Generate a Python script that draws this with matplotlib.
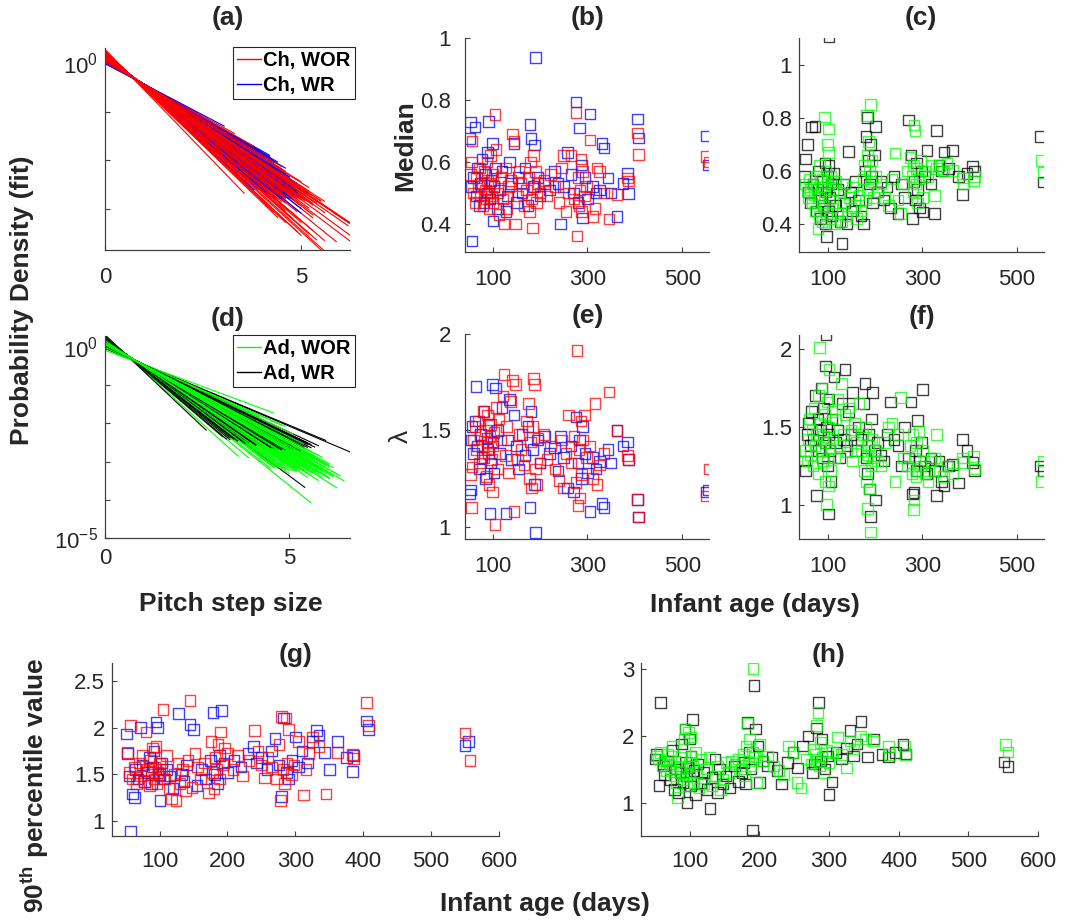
import numpy as np
import matplotlib
matplotlib.use('Agg')
import matplotlib.pyplot as plt
from matplotlib.lines import Line2D

plt.rcParams['font.family'] = ['Liberation Sans', 'DejaVu Sans']
plt.rcParams['mathtext.fontset'] = 'custom'
plt.rcParams['mathtext.rm'] = 'Liberation Sans'
plt.rcParams['mathtext.bf'] = 'Liberation Sans:bold'
plt.rcParams['mathtext.it'] = 'Liberation Sans:italic'

# ---------------- data ----------------
# Children, without reduplication (red)
red_age = [53, 56, 57, 60, 63, 66, 70, 72, 75, 78,
           80, 82, 85, 87, 88, 90, 92, 93, 95, 96,
           98, 100, 101, 103, 105, 107, 110, 114, 118, 122,
           124, 127, 130, 134, 138, 142, 145, 148, 152, 156,
           160, 166, 172, 176, 178, 180, 182, 184, 186, 188,
           190, 193, 196, 200, 208, 215, 222, 232, 240, 245,
           250, 255, 260, 265, 272, 276, 278, 280, 282, 284,
           286, 288, 290, 294, 298, 305, 312, 316, 320, 325,
           335, 345, 362, 384, 386, 405, 408, 550, 557]
red_med = [0.56, 0.60, 0.668, 0.50, 0.47, 0.55, 0.52, 0.58, 0.49, 0.53,
           0.46, 0.57, 0.51, 0.48, 0.60, 0.54, 0.50, 0.45, 0.53, 0.62,
           0.49, 0.56, 0.47, 0.52, 0.752, 0.64, 0.50, 0.43, 0.55, 0.48,
           0.40, 0.58, 0.45, 0.52, 0.54, 0.69, 0.668, 0.40, 0.49, 0.57,
           0.53, 0.46, 0.51, 0.55, 0.44, 0.60, 0.48, 0.387, 0.62, 0.52,
           0.57, 0.47, 0.53, 0.50, 0.54, 0.49, 0.56, 0.52, 0.47, 0.58,
           0.62, 0.44, 0.50, 0.62, 0.48, 0.76, 0.361, 0.55, 0.46, 0.51,
           0.61, 0.44, 0.57, 0.49, 0.52, 0.67, 0.424, 0.45, 0.58, 0.57,
           0.50, 0.416, 0.496, 0.548, 0.538, 0.693, 0.623, 0.617, 0.60]
red_lam = [1.27, 1.10, 1.31, 1.45, 1.52, 1.40, 1.55, 1.33, 1.48, 1.42,
           1.60, 1.36, 1.50, 1.26, 1.44, 1.58, 1.38, 1.22, 1.47, 1.53,
           1.35, 1.18, 1.42, 1.49, 1.01, 1.62, 1.30, 1.56, 1.45, 1.68,
           1.79, 1.37, 1.52, 1.28, 1.65, 1.76, 1.08, 1.74, 1.35, 1.48,
           1.40, 1.32, 1.55, 1.64, 1.25, 1.44, 1.20, 1.52, 1.77, 1.74,
           1.30, 1.22, 1.46, 1.33, 1.48, 1.35, 1.42, 1.30, 1.24, 1.45,
           1.20, 1.38, 1.58, 1.33, 1.47, 1.23, 1.917, 1.11, 1.40, 1.15,
           1.55, 1.27, 1.45, 1.58, 1.36, 1.42, 1.25, 1.64, 1.22, 1.32,
           1.38, 1.70, 1.50, 1.37, 1.35, 1.14, 1.05, 1.16, 1.30]
red_p90 = [1.73, 1.52, 2.02, 1.45, 1.58, 1.40, 1.62, 1.48, 1.70, 1.42,
           1.95, 1.55, 1.38, 1.65, 1.50, 1.78, 1.45, 1.58, 1.80, 1.40,
           1.52, 1.62, 1.48, 1.55, 2.19, 1.45, 1.70, 1.35, 1.24, 1.50,
           1.22, 1.62, 1.40, 1.55, 1.32, 1.65, 2.29, 1.36, 1.72, 1.58,
           1.45, 1.62, 1.30, 1.85, 1.52, 1.35, 1.68, 1.55, 1.82, 1.45,
           1.95, 1.60, 1.78, 1.72, 1.55, 1.70, 1.48, 1.65, 1.97, 1.75,
           1.60, 1.46, 1.68, 1.58, 1.45, 1.82, 1.22, 2.12, 1.55, 1.40,
           2.10, 1.62, 1.98, 1.50, 1.60, 1.85, 1.28, 1.55, 1.72, 1.90,
           1.80, 1.29, 1.73, 1.71, 1.67, 2.27, 2.02, 1.94, 1.65]
red_xend = [5.4, 4.4, 5.6, 4.6, 4.9, 6.4, 4.5, 5.1, 4.3, 5.3,
            5.0, 4.8, 5.9, 4.6, 4.7, 5.6, 5.2, 5.5, 4.3, 4.6,
            6.5, 4.4, 5.0, 4.5, 3.3, 4.6, 4.8, 4.4, 5.3, 5.8,
            4.4, 4.9, 4.3, 6.2, 5.2, 4.6, 4.0, 4.9, 5.0, 4.6,
            4.8, 5.3, 4.2, 5.4, 6.4, 4.7, 5.2, 4.1, 4.3, 5.0,
            5.1, 5.5, 4.6, 5.0, 4.5, 4.9, 4.3, 5.3, 6.3, 4.5,
            5.6, 4.8, 5.3, 5.0, 4.6, 5.2, 3.55, 4.5, 4.7, 5.0,
            4.2, 5.1, 4.6, 4.9, 4.9, 4.5, 6.3, 4.8, 5.2, 4.8,
            4.6, 5.5, 4.4, 4.7, 5.0, 4.6, 3.8, 5.2, 4.8]

# Children, with reduplication (blue)
blue_age = [51, 53, 55, 57, 60, 63, 65, 68, 72, 75,
            78, 82, 85, 88, 90, 92, 95, 97, 100, 101,
            103, 106, 110, 115, 120, 128, 132, 136, 140, 145,
            150, 155, 162, 168, 175, 179, 181, 185, 188, 191,
            195, 200, 210, 220, 230, 238, 243, 250, 258, 265,
            270, 276, 280, 283, 287, 290, 295, 300, 305, 310,
            318, 325, 331, 335, 343, 350, 362, 375, 384, 386,
            405, 408, 550, 555]
blue_med = [0.675, 0.728, 0.52, 0.345, 0.55, 0.713, 0.49, 0.58, 0.46, 0.53,
            0.61, 0.47, 0.56, 0.50, 0.63, 0.73, 0.48, 0.54, 0.66, 0.41,
            0.52, 0.58, 0.45, 0.51, 0.57, 0.44, 0.49, 0.60, 0.53, 0.66,
            0.47, 0.55, 0.50, 0.58, 0.46, 0.72, 0.675, 0.52, 0.654, 0.936,
            0.55, 0.49, 0.53, 0.51, 0.57, 0.53, 0.40, 0.52, 0.63, 0.56,
            0.50, 0.793, 0.47, 0.709, 0.59, 0.42, 0.55, 0.48, 0.755, 0.52,
            0.50, 0.51, 0.66, 0.645, 0.548, 0.50, 0.424, 0.53, 0.563, 0.499,
            0.738, 0.677, 0.684, 0.59]
blue_lam = [1.17, 1.19, 1.45, 1.52, 1.38, 1.55, 1.73, 1.42, 1.30, 1.48,
            1.36, 1.60, 1.25, 1.46, 1.40, 1.53, 1.07, 1.33, 1.74, 1.44,
            1.28, 1.72, 1.50, 1.38, 1.62, 1.07, 1.45, 1.66, 1.35, 1.58,
            1.42, 1.30, 1.48, 1.37, 1.52, 1.10, 1.60, 1.40, 1.22, 0.97,
            1.45, 1.33, 1.47, 1.38, 1.41, 1.29, 1.47, 1.36, 1.20, 1.42,
            1.18, 1.57, 1.33, 1.45, 1.25, 1.52, 1.38, 1.28, 1.08, 1.36,
            1.30, 1.34, 1.12, 1.10, 1.40, 1.33, 1.50, 1.42, 1.44, 1.35,
            1.14, 1.05, 1.18, 1.19]
blue_p90 = [1.93, 1.72, 1.48, 0.89, 1.29, 1.25, 1.55, 1.45, 2.00, 1.60,
            1.42, 1.52, 1.68, 1.40, 1.58, 1.75, 2.06, 2.00, 1.50, 1.22,
            1.62, 1.45, 1.55, 1.48, 1.35, 2.15, 1.50, 1.42, 1.60, 2.03,
            1.98, 1.38, 1.55, 1.45, 1.65, 2.16, 1.50, 1.40, 1.70, 2.18,
            1.62, 1.52, 1.65, 1.58, 1.72, 1.80, 1.62, 1.68, 1.55, 1.75,
            1.88, 1.60, 1.26, 2.10, 1.52, 1.45, 1.65, 1.90, 1.58, 1.75,
            1.62, 1.85, 1.97, 1.92, 1.73, 1.55, 1.85, 1.68, 1.53, 1.70,
            2.07, 1.98, 1.81, 1.85]
blue_xend = [4.6, 4.4, 4.5, 4.2, 4.8, 4.0, 3.6, 4.6, 4.9, 4.4,
             4.7, 4.0, 4.8, 4.3, 4.5, 4.1, 4.2, 4.9, 3.7, 4.4,
             5.0, 3.8, 5.0, 4.6, 4.2, 4.0, 4.5, 3.9, 4.7, 4.3,
             4.8, 4.9, 4.4, 4.6, 4.5, 4.3, 4.1, 4.6, 4.8, 3.04,
             4.4, 4.7, 4.5, 4.2, 4.6, 4.8, 4.3, 4.5, 4.9, 4.4,
             4.7, 4.0, 4.6, 5.0, 4.8, 4.2, 4.5, 4.7, 4.4, 4.6,
             4.9, 4.5, 4.3, 4.6, 4.4, 4.7, 4.3, 4.5, 4.6, 4.8,
             4.5, 4.2, 4.7, 4.4]

# Adults, without reduplication (green)
green_age = [52, 55, 58, 60, 63, 66, 68, 70, 72, 75,
             78, 80, 81, 82, 85, 87, 88, 90, 92, 93,
             95, 96, 98, 99, 100, 101, 102, 104, 106, 108,
             110, 113, 116, 120, 124, 128, 132, 136, 140, 144,
             148, 152, 156, 160, 165, 170, 174, 177, 179, 181,
             183, 184, 186, 188, 190, 191, 193, 196, 200, 205,
             212, 220, 228, 235, 242, 248, 254, 260, 268, 274,
             278, 280, 281, 282, 284, 286, 288, 290, 293, 296,
             300, 305, 312, 318, 325, 330, 336, 345, 352, 364,
             385, 387, 408, 410, 553, 557]
green_med = [0.55, 0.52, 0.50, 0.57, 0.53, 0.48, 0.55, 0.51, 0.45, 0.58,
             0.384, 0.50, 0.43, 0.62, 0.54, 0.41, 0.57, 0.47, 0.803, 0.52,
             0.60, 0.44, 0.55, 0.70, 0.67, 0.758, 0.49, 0.42, 0.58, 0.46,
             0.53, 0.40, 0.56, 0.44, 0.52, 0.41, 0.48, 0.55, 0.43, 0.50,
             0.46, 0.54, 0.47, 0.42, 0.51, 0.45, 0.57, 0.62, 0.49, 0.809,
             0.66, 0.53, 0.71, 0.60, 0.849, 0.56, 0.64, 0.50, 0.58, 0.52,
             0.55, 0.50, 0.47, 0.57, 0.668, 0.49, 0.44, 0.55, 0.60, 0.65,
             0.58, 0.52, 0.62, 0.773, 0.752, 0.55, 0.61, 0.48, 0.57, 0.64,
             0.50, 0.60, 0.58, 0.62, 0.508, 0.61, 0.62, 0.60, 0.63, 0.602,
             0.573, 0.55, 0.562, 0.58, 0.64, 0.595]
green_lam = [1.35, 1.28, 1.42, 1.55, 1.32, 1.48, 1.25, 1.62, 1.38, 1.45,
             1.20, 1.70, 2.01, 1.52, 1.35, 1.75, 1.28, 1.44, 1.58, 1.15,
             1.40, 1.00, 1.66, 1.30, 1.12, 1.50, 1.87, 1.36, 1.22, 1.60,
             1.42, 1.30, 1.55, 1.68, 1.38, 1.78, 1.45, 1.58, 1.34, 1.62,
             1.48, 1.28, 1.52, 1.40, 1.65, 1.35, 1.45, 1.22, 1.50, 1.15,
             1.32, 0.975, 1.38, 1.10, 0.825, 1.25, 1.42, 1.30, 1.35, 1.28,
             1.25, 1.40, 1.50, 1.52, 1.15, 1.45, 1.69, 1.30, 1.25, 1.38,
             1.20, 1.45, 0.97, 1.03, 1.30, 1.18, 1.40, 1.22, 1.47, 1.25,
             1.35, 1.20, 1.15, 1.28, 1.30, 1.45, 1.22, 1.18, 1.25, 1.20,
             1.30, 1.27, 1.31, 1.23, 1.15, 1.28]
green_p90 = [1.70, 1.65, 1.75, 1.55, 1.62, 1.48, 1.72, 1.58, 1.50, 1.85,
             1.40, 1.62, 1.30, 1.08, 1.55, 1.45, 1.68, 1.35, 1.95, 2.10,
             1.52, 1.25, 2.05, 1.60, 1.42, 1.98, 1.70, 1.55, 1.30, 1.75,
             1.45, 1.22, 1.65, 1.28, 1.50, 1.68, 1.25, 1.40, 1.55, 1.20,
             1.35, 1.60, 1.45, 1.62, 1.58, 1.65, 1.50, 1.72, 1.40, 1.85,
             2.18, 1.62, 1.95, 1.55, 1.75, 3.01, 1.68, 1.30, 1.88, 1.62,
             1.70, 1.55, 1.48, 1.42, 1.85, 1.75, 1.30, 1.22, 1.65, 1.58,
             1.80, 1.72, 1.62, 2.15, 2.35, 1.55, 1.90, 1.68, 1.45, 1.78,
             1.60, 1.75, 1.98, 1.72, 1.52, 1.92, 1.80, 2.00, 1.95, 1.92,
             1.84, 1.72, 1.85, 1.72, 1.87, 1.76]
green_xend = [5.6, 6.2, 5.3, 4.9, 6.0, 5.1, 6.4, 4.8, 5.5, 5.8,
              6.0, 4.6, 3.62, 5.2, 6.1, 4.5, 5.7, 5.4, 5.0, 5.6,
              6.3, 4.2, 4.7, 5.9, 5.0, 5.5, 3.9, 5.8, 6.0, 4.9,
              5.6, 6.2, 5.1, 4.6, 5.7, 5.59, 5.4, 4.8, 6.1, 5.0,
              5.3, 6.5, 5.2, 5.6, 4.7, 6.0, 5.5, 6.1, 5.0, 5.8,
              5.6, 4.8, 5.9, 5.4, 4.57, 6.3, 5.2, 5.7, 5.5, 6.0,
              5.8, 5.4, 5.1, 4.9, 5.5, 5.6, 4.5, 6.2, 5.9, 5.3,
              6.0, 5.5, 4.9, 5.1, 5.8, 6.1, 5.4, 5.7, 5.2, 6.0,
              5.6, 6.2, 5.3, 5.9, 5.5, 5.0, 6.0, 5.7, 5.4, 6.1,
              5.6, 5.3, 5.8, 5.5, 5.9, 5.6]

# Adults, with reduplication (black)
black_age = [50, 52, 56, 58, 62, 64, 68, 72, 75, 78,
             80, 84, 86, 88, 90, 93, 94, 95, 96, 98,
             100, 101, 102, 104, 106, 108, 112, 116, 120, 125,
             129, 132, 136, 140, 143, 148, 152, 158, 164, 170,
             175, 178, 180, 183, 185, 188, 190, 192, 194, 198,
             200, 205, 212, 218, 225, 232, 240, 248, 255, 262,
             270, 276, 279, 282, 285, 288, 290, 294, 298, 300,
             304, 310, 318, 325, 330, 335, 340, 346, 355, 364,
             376, 385, 395, 406, 410, 551, 557]
black_med = [0.58, 0.645, 0.70, 0.52, 0.48, 0.765, 0.55, 0.768, 0.45, 0.53,
             0.60, 0.42, 0.50, 0.56, 0.47, 0.63, 0.40, 0.52, 0.353, 0.58,
             0.45, 0.62, 1.103, 0.50, 0.55, 0.43, 0.59, 0.47, 0.53, 0.41,
             0.328, 0.55, 0.48, 0.40, 0.673, 0.52, 0.45, 0.56, 0.49, 0.43,
             0.401, 0.60, 0.73, 0.802, 0.64, 0.55, 0.70, 0.58, 0.48, 0.66,
             0.768, 0.52, 0.56, 0.49, 0.54, 0.46, 0.58, 0.44, 0.55, 0.50,
             0.792, 0.66, 0.42, 0.56, 0.49, 0.63, 0.53, 0.46, 0.60, 0.445,
             0.58, 0.677, 0.55, 0.44, 0.752, 0.62, 0.60, 0.671, 0.61, 0.677,
             0.58, 0.511, 0.59, 0.616, 0.60, 0.73, 0.558]
black_lam = [1.28, 1.22, 1.45, 1.52, 1.38, 1.60, 1.42, 1.70, 1.06, 1.55,
             1.35, 1.48, 1.75, 1.30, 1.62, 1.40, 1.89, 2.09, 1.50, 1.25,
             1.45, 0.94, 1.68, 1.35, 1.15, 1.55, 1.82, 1.40, 1.48, 1.30,
             1.65, 1.42, 1.87, 1.38, 1.60, 1.45, 1.72, 1.35, 1.50, 1.42,
             1.65, 1.78, 1.30, 1.20, 1.45, 1.10, 0.925, 1.55, 1.72, 1.35,
             1.03, 1.40, 1.32, 1.28, 1.45, 1.66, 1.42, 1.38, 1.25, 1.50,
             1.30, 1.66, 1.07, 1.08, 1.35, 1.22, 1.54, 1.28, 1.40, 1.74,
             1.25, 1.20, 1.30, 1.22, 1.06, 1.28, 1.15, 1.12, 1.25, 1.26,
             1.14, 1.42, 1.35, 1.27, 1.22, 1.25, 1.22]
black_p90 = [1.65, 1.72, 1.26, 2.50, 1.55, 1.42, 1.62, 1.35, 1.78, 1.20,
             1.50, 1.15, 1.45, 1.88, 1.30, 2.10, 1.60, 1.40, 1.00, 1.52,
             1.95, 1.25, 1.70, 2.24, 1.48, 1.12, 1.58, 1.30, 1.45, 1.20,
             0.91, 1.38, 1.65, 1.15, 1.50, 1.28, 1.40, 1.22, 1.55, 1.32,
             1.45, 1.60, 1.28, 2.20, 1.75, 1.50, 0.59, 2.75, 2.10, 1.85,
             1.30, 1.62, 1.55, 1.68, 1.48, 1.28, 1.60, 1.75, 1.52, 1.85,
             2.00, 1.45, 1.58, 2.12, 2.50, 1.62, 1.95, 1.50, 1.70, 1.12,
             1.31, 1.75, 1.65, 1.82, 2.08, 1.70, 1.88, 2.21, 1.68, 1.95,
             1.72, 1.68, 1.75, 1.87, 1.73, 1.61, 1.54]
black_xend = [4.8, 5.2, 4.4, 4.1, 4.6, 3.9, 4.5, 3.6, 5.5, 4.0,
              4.7, 4.3, 3.5, 4.9, 3.8, 4.6, 3.2, 2.75, 4.2, 5.0,
              4.4, 6.8, 3.7, 4.8, 5.3, 4.0, 3.4, 4.5, 4.3, 4.9,
              5.43, 4.5, 3.3, 4.7, 3.9, 4.4, 3.6, 4.8, 4.2, 4.6,
              3.8, 3.4, 5.0, 5.2, 4.4, 5.6, 6.0, 4.1, 3.6, 4.8,
              5.8, 4.6, 4.9, 5.0, 4.4, 3.8, 4.5, 4.7, 5.1, 4.2,
              4.9, 3.7, 5.7, 5.5, 4.8, 5.2, 4.1, 5.0, 4.6, 3.5,
              5.1, 5.3, 4.9, 5.2, 5.6, 5.0, 5.4, 5.5, 5.1, 5.0,
              5.4, 4.5, 4.8, 5.0, 5.2, 5.1, 5.3]

legend_ch = ['Ch, WOR', 'Ch, WR']
legend_ad = ['Ad, WOR', 'Ad, WR']
panel_titles = ['(a)', '(b)', '(c)', '(d)', '(e)', '(f)', '(g)', '(h)']

# ---------------- styling helpers ----------------
TXT = '#262626'
AXC = '#404040'
RED, BLUE, GREEN, BLACK = '#ff0000', '#0000ff', '#00ff00', '#000000'
W, H = 1066, 922
TICK_FS = 16

fig = plt.figure(figsize=(W / 100, H / 100), dpi=100)


def add_ax(l, t, r, b):
    return fig.add_axes([l / W, 1 - b / H, (r - l) / W, (b - t) / H])


def style(ax, xpad=12, ypad=5):
    for s in ['top', 'right']:
        ax.spines[s].set_visible(False)
    for s in ['left', 'bottom']:
        ax.spines[s].set_color(AXC)
        ax.spines[s].set_linewidth(0.9)
    ax.tick_params(direction='in', length=3.5, width=0.8, colors=AXC,
                   labelcolor=TXT, labelsize=TICK_FS)
    ax.tick_params(axis='x', pad=xpad)
    ax.tick_params(axis='y', pad=ypad)


def ftext(x, y, s, **kw):
    fig.text(x / W, 1 - y / H, s, ha='center', va='center', color=TXT, **kw)


def pdf_lines(ax, series):
    # series: list of (lam, xend, color); drawn interleaved
    n = max(len(s[0]) for s in series)
    for i in range(n):
        for lam, xend, color in series:
            if i < len(lam):
                l, xe = lam[i], xend[i]
                xs = np.array([0.0, xe])
                ax.plot(xs, l * np.exp(-l * xs), color=color, lw=0.8)


def scat(ax, age, val, color):
    ax.scatter(age, val, marker='s', s=58, facecolors='none',
               edgecolors=color, linewidths=1.0, alpha=0.75)


def legend(ax, colors, labels, top):
    lg = ax.legend([Line2D([], [], color=c, lw=1) for c in colors], labels,
                   loc='upper left', bbox_to_anchor=(233 / W, 1 - top / H),
                   bbox_transform=fig.transFigure,
                   prop={'weight': 'bold', 'size': 14.5},
                   frameon=True, fancybox=False, edgecolor=TXT, framealpha=1,
                   handlelength=1.2, handletextpad=0.1, borderpad=0.2,
                   labelspacing=0.3, borderaxespad=0)
    lg.get_frame().set_linewidth(0.8)


# ---------------- (a) ----------------
ax_a = add_ax(105, 48, 350, 250)
pdf_lines(ax_a, [(red_lam, red_xend, RED), (blue_lam, blue_xend, BLUE)])
ax_a.set_yscale('log')
ax_a.set_xlim(0, 6.25)
ax_a.set_ylim(1.45e-4, 2.04)
ax_a.set_xticks([0, 5])
ax_a.set_yticks([1e-3, 1e-2, 1e-1, 1e0])
ax_a.set_yticklabels(['', '', '', r'$10^0$'])
ax_a.minorticks_off()
style(ax_a, xpad=12, ypad=5)
legend(ax_a, [RED, BLUE], legend_ch, 47)

# ---------------- (d) ----------------
ax_d = add_ax(105, 336, 350, 538)
pdf_lines(ax_d, [(green_lam, green_xend, GREEN), (black_lam, black_xend, BLACK)])
ax_d.set_yscale('log')
ax_d.set_xlim(0, 6.66)
ax_d.set_ylim(1e-5, 1.95)
ax_d.set_xticks([0, 5])
ax_d.set_yticks([1e-5, 1e-4, 1e-3, 1e-2, 1e-1, 1e0])
ax_d.set_yticklabels([r'$10^{-5}$', '', '', '', '', r'$10^0$'])
ax_d.minorticks_off()
style(ax_d, xpad=7, ypad=5)
legend(ax_d, [GREEN, BLACK], legend_ad, 335)

# ---------------- (b) median children ----------------
ax_b = add_ax(465, 37.7, 709, 252)
scat(ax_b, blue_age, blue_med, BLUE)
scat(ax_b, red_age, red_med, RED)
ax_b.set_xlim(42, 556)
ax_b.set_ylim(0.31, 1.0)
ax_b.set_xticks([100, 300, 500])
ax_b.set_yticks([0.4, 0.6, 0.8, 1.0])
ax_b.set_yticklabels(['0.4', '0.6', '0.8', '1'])
style(ax_b, xpad=12, ypad=10)

# ---------------- (c) median adults ----------------
ax_c = add_ax(799, 38, 1044, 252)
scat(ax_c, black_age, black_med, BLACK)
scat(ax_c, green_age, green_med, GREEN)
ax_c.set_xlim(38, 558)
ax_c.set_ylim(0.295, 1.1)
ax_c.set_xticks([100, 300, 500])
ax_c.set_yticks([0.4, 0.6, 0.8, 1.0])
ax_c.set_yticklabels(['0.4', '0.6', '0.8', '1'])
style(ax_c, xpad=12, ypad=5)

# ---------------- (e) lambda children ----------------
ax_e = add_ax(465, 334.3, 709, 539)
scat(ax_e, blue_age, blue_lam, BLUE)
scat(ax_e, red_age, red_lam, RED)
ax_e.set_xlim(42, 556)
ax_e.set_ylim(0.936, 2.0)
ax_e.set_xticks([100, 300, 500])
ax_e.set_yticks([1.0, 1.5, 2.0])
ax_e.set_yticklabels(['1', '1.5', '2'])
style(ax_e, xpad=12, ypad=10)

# ---------------- (f) lambda adults ----------------
ax_f = add_ax(799, 335, 1044, 539)
scat(ax_f, black_age, black_lam, BLACK)
scat(ax_f, green_age, green_lam, GREEN)
ax_f.set_xlim(38, 558)
ax_f.set_ylim(0.78, 2.09)
ax_f.set_xticks([100, 300, 500])
ax_f.set_yticks([1.0, 1.5, 2.0])
ax_f.set_yticklabels(['1', '1.5', '2'])
style(ax_f, xpad=12, ypad=5)

# ---------------- (g) 90th percentile children ----------------
ax_g = add_ax(112, 663, 499, 836)
scat(ax_g, blue_age, blue_p90, BLUE)
scat(ax_g, red_age, red_p90, RED)
ax_g.set_xlim(30, 600)
ax_g.set_ylim(0.84, 2.69)
ax_g.set_xticks([100, 200, 300, 400, 500, 600])
ax_g.set_yticks([1.0, 1.5, 2.0, 2.5])
ax_g.set_yticklabels(['1', '1.5', '2', '2.5'])
style(ax_g, xpad=11, ypad=5)

# ---------------- (h) 90th percentile adults ----------------
ax_h = add_ax(641, 663, 1038, 836)
scat(ax_h, black_age, black_p90, BLACK)
scat(ax_h, green_age, green_p90, GREEN)
ax_h.set_xlim(30, 600)
ax_h.set_ylim(0.5, 3.09)
ax_h.set_xticks([100, 200, 300, 400, 500, 600])
ax_h.set_yticks([1, 2, 3])
style(ax_h, xpad=11, ypad=5)

# ---------------- titles and labels ----------------
title_pos = [(228, 18), (588, 18), (921, 18), (228, 319),
             (588, 316), (922, 317), (296, 655), (829, 655)]
for t, (x, y) in zip(panel_titles, title_pos):
    ftext(x, y, t, fontsize=19, fontweight='bold')

ftext(22, 300, 'Probability Density (fit)', fontsize=19, fontweight='bold', rotation=90)
ftext(405, 146, 'Median', fontsize=19, fontweight='bold', rotation=90)
ftext(401, 436, 'λ', fontsize=19, rotation=90)
ftext(35, 785, r'$\mathbf{90^{th}}$ percentile value', fontsize=19,
      fontweight='bold', rotation=90)
ftext(231, 604, 'Pitch step size', fontsize=19, fontweight='bold')
ftext(755, 605, 'Infant age (days)', fontsize=19, fontweight='bold')
ftext(545, 904, 'Infant age (days)', fontsize=19, fontweight='bold')

fig.savefig('out.png', dpi=100)
